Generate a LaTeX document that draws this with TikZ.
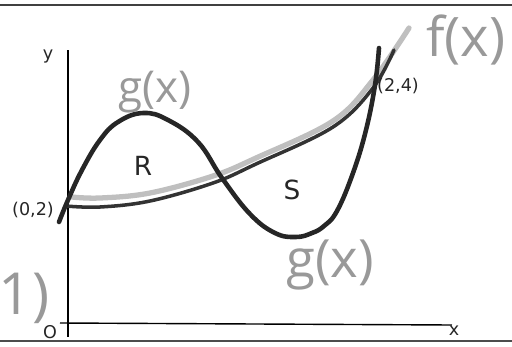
\documentclass[tikz,border=0pt]{standalone}
\usepackage{fontspec}
\setmainfont{DejaVu Sans}
\newfontfamily\handfont{Open Sans}
\usepackage{tikz}
\usetikzlibrary{positioning}

\tikzset{
    curveline/.style={line width=2.6pt, line cap=round, line join=round},
    pencil/.style={text=black!40, font=\handfont},
    typed/.style={text=black!85, inner sep=0pt}
}

\begin{document}
\begin{tikzpicture}[x=0.02cm, y=-0.02cm]
    \useasboundingbox (0,0) rectangle (512,346);

    % page edges
    \draw[line width=1pt, draw=black!75] (0,5) -- (512,5);
    \draw[line width=1.6pt, draw=black!70] (0,341) -- (512,341);

    % axes
    \draw[line width=0.8pt] (68,50) -- (68,337);
    \draw[line width=0.8pt] (60,323) -- (452,325);
    \node[typed, font=\fontsize{10}{12}\selectfont] (ylab) at (48,57) {y};
    \node[typed, font=\fontsize{10}{12}\selectfont] (xlab) at (454,331) {x};
    \node[typed, font=\fontsize{10}{12}\selectfont] (origin) at (50,332) {O};

        % f(x)
        \draw[curveline, line width=3pt, draw=black!25] plot[smooth, tension=0.6] coordinates
            {(72,197) (100,198) (150,193) (213,176) (256,158) (333,121) (373,80) (409,28)};
        \draw[curveline, line width=2pt, draw=black!80] plot[smooth, tension=0.6] coordinates
            {(66,206) (100,207) (150,201) (213,183) (256,164) (333,127) (373,88) (394,50)};

        % g(x)
        \draw[curveline, draw=black!85] plot[smooth, tension=0.7] coordinates
            {(59,222) (68,200) (82,170) (100,140) (118,122) (143,113) (168,120) (198,142)
             (222,178) (250,214) (275,233) (296,237) (312,233) (324,226) (337,211) (353,173)
             (366,130) (375,85) (379,48)};

        \node[typed, font=\fontsize{10}{12}\selectfont] (ptA) at (33,210) {(0,2)};
        \node[typed, font=\fontsize{10}{12}\selectfont] (ptB) at (398,86) {(2,4)};
        \node[typed, font=\fontsize{15}{18}\selectfont] (regR) at (143,166) {R};
        \node[typed, font=\fontsize{15}{18}\selectfont] (regS) at (292,190) {S};

        \node[pencil, font=\handfont\fontsize{25}{30}\selectfont] (glabA) at (155,92) {g(x)};
        \node[pencil, font=\handfont\fontsize{30}{36}\selectfont] (glabB) at (330,265) {g(x)};
        \node[pencil, font=\handfont\fontsize{31}{37}\selectfont] (flab) at (466,40) {f(x)};
        \node[pencil, font=\handfont\fontsize{33}{40}\selectfont] (partno) at (24,298) {1)};
\end{tikzpicture}
\end{document}
